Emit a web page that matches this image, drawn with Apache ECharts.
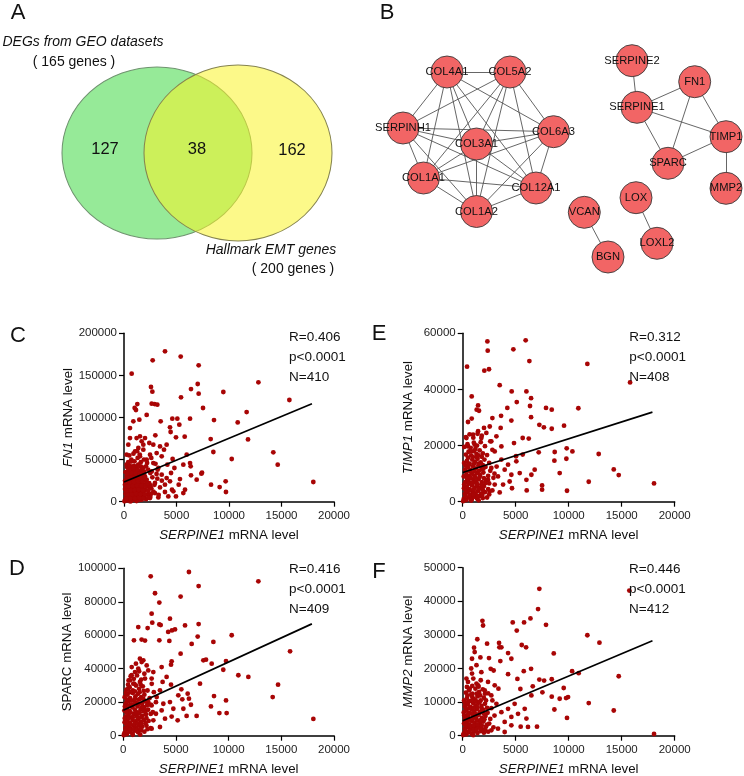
<!DOCTYPE html>
<html>
<head>
<meta charset="utf-8">
<script src="https://cdn.jsdelivr.net/npm/echarts@6/dist/echarts.min.js"></script>
<style>html,body{margin:0;padding:0;background:#fff}#main{width:744px;height:776px}</style>
</head>
<body>
<div id="main"></div>
<script>
// ---------------- DATA ----------------
const vennSetNames = ['DEGs from GEO datasets', 'Hallmark EMT genes'];
const vennSetSizes = [165, 200];
const vennCounts = [127, 38, 162];

const genes = ['COL4A1','COL5A2','SERPINH1','COL6A3','COL3A1','COL1A1','COL12A1','COL1A2',
  'SERPINE2','FN1','SERPINE1','TIMP1','SPARC','MMP2','LOX','VCAN','LOXL2','BGN'];
const collagenCluster = ['COL4A1','COL5A2','SERPINH1','COL6A3','COL3A1','COL1A1','COL12A1','COL1A2'];
const otherLinks = [['SERPINE2','SERPINE1'],['SERPINE1','FN1'],['SERPINE1','TIMP1'],['SERPINE1','SPARC'],
  ['FN1','SPARC'],['FN1','TIMP1'],['SPARC','TIMP1'],['TIMP1','MMP2'],['LOX','LOXL2'],['VCAN','BGN']];

const xTickValues = [0, 5000, 10000, 15000, 20000];
const panelLetters = ['A','B','C','E','D','F'];
const yGenes = ['FN1','TIMP1','SPARC','MMP2'];
const yGeneItalic = [true, true, false, true];
const yMax = [200000, 60000, 100000, 50000];
const yInterval = [50000, 20000, 20000, 10000];
const rValues = ['0.406','0.312','0.416','0.446'];
const pValues = ['p<0.0001','p<0.0001','p<0.0001','p<0.0001'];
const nValues = [410, 408, 409, 412];

const fn1Fit = [[0,23400],[17900,116400]];
const timp1Fit = [[0,10400],[17900,31900]];
const sparcFit = [[0,15200],[17900,66800]];
const mmp2Fit = [[0,4450],[17900,28240]];

const fn1Points = [[3905,178600],[2730,167900],[5400,172300],[7110,162000],[730,152000],[2570,136200],[2700,130700],[6380,133800],[7110,128300],[7020,139800],[12800,141800],[9460,130300],[15750,120800],[5430,124000],[2920,116000],[3175,115200],[2635,116400],[1270,116000],[1140,108900],[1016,111300],[7525,111300],[11680,106500],[2160,103000],[3490,95400],[4600,98600],[5080,98600],[5270,91500],[6290,98600],[8570,97000],[10830,94200],[570,87500],[4380,88300],[4440,82800],[2985,78800],[4950,76400],[5780,77200],[8255,74400],[11810,74000],[5970,55800],[8510,59000],[10260,50700],[14220,58600],[14640,44000],[18030,23400],[9680,24200],[9710,11500],[8290,20200],[9110,17400],[7370,33300],[7430,34500],[6290,45900],[6350,42000],[5650,44000],[6380,31300],[6920,26100],[5810,14300],[5650,10300],[4950,6300],[4570,14300],[5210,20200],[5330,26900],[4480,34100],[4800,40000],[4130,44000],[4060,28100],[3430,17000],[3175,27300],[3900,11500],[2950,10300],[4630,50700],[4060,67700],[3430,65700],[3810,61800],[2790,67700],[2410,69700],[1840,67700],[1520,77600],[2000,75600],[1200,75600],[570,75600],[410,67700],[890,95400],[1460,97400],[1680,71700],[1365,63800],[2480,55800],[3110,57800],[3590,53900],[2160,49900],[2790,45900],[3270,40000],[2635,36000],[3590,32100],[4380,24200],[3900,20200],[2950,22200],[2480,16200],[2160,26100],[1840,30100],[1520,20200],[2000,8300],[1365,6300],[1050,12300],[730,16200],[570,24200],[890,32100],[1200,40000],[730,47900],[250,44000],[250,55800],[1050,59800],[1840,61800],[1520,53900],[410,34100],[95,20200],[250,10300],[410,4400],[890,3600],[1680,2400],[2480,4400],[3270,5100],[4220,6300],[4700,12300],
[100,2000],[300,1500],[500,3000],[700,1000],[900,2500],[1100,1800],[1300,3500],[1500,2200],[1700,4000],[200,5000],[400,6500],[600,5500],[800,7000],[1000,6000],[1200,8000],[1400,6800],[1600,7500],[1900,5800],[150,9500],[350,11000],[550,10000],[750,12000],[950,10500],[1150,12500],[1350,11500],[1550,13000],[1800,10800],[100,15000],[300,16500],[500,14500],[700,17000],[900,15500],[1100,17500],[1300,16000],[1500,18000],[1750,15800],[2000,14000],[200,20000],[400,21500],[600,19500],[800,22000],[1000,20500],[1200,23000],[1400,21000],[1650,22500],[1900,20000],[2200,18000],[100,25000],[300,26500],[500,24500],[700,27500],[900,25500],[1100,28000],[1300,26000],[1550,27000],[1800,25500],[2100,24000],[250,30000],[450,32000],[650,29500],[850,33000],[1050,31000],[1250,33500],[1450,30500],[1700,32000],[2000,30000],[150,35000],[400,37000],[600,34500],[800,38000],[1000,36000],[1200,38500],[1400,35500],[1650,37000],[1900,36000],[300,41000],[550,43000],[750,40000],[950,42500],[1150,41000],[1350,44000],[1600,42000],[1850,40500],[2300,38000],[2500,34000],[2700,29000],[2400,22000],[2600,16000],[2300,9000],[2800,12000],[2100,3000],[2500,6000],[50,500],[600,300],[1200,800],[400,47000],[700,50000],[1000,48000],[1300,52000],[1600,47000],[1900,50000],[2200,46000],[500,55000],[900,57000],[1250,60000],[1500,56000],[2600,52000],[3000,45000],[3200,38000],[2900,20000],
[250,4000],[650,4200],[1050,3800],[1450,4500],[1850,4300],[2300,4800],[350,8300],[750,8800],[1150,9300],[1550,9000],[2000,8700],[2600,9500],[200,13000],[600,13400],[1000,13800],[1400,14200],[1800,13500],[2300,13000],[450,18500],[850,18800],[1250,19500],[1650,19000],[2050,18700],[2500,19500],[150,23000],[550,22800],[950,23500],[1350,24000],[1750,24200],[2250,21500],[350,28500],[750,29000],[1150,29500],[1550,29000],[1950,28000],[300,33500],[700,34000],[1100,33800],[1500,33000],[1900,33500],[500,38500],[900,39500],[1300,38000],[1700,39000],[2100,42000],[3300,8000],[3600,25000],[3100,33000]];

const timp1Points = [[2330,57100],[5940,57500],[4780,54300],[2360,53800],[6290,50100],[410,48100],[2480,47200],[2040,46700],[11760,49100],[15790,42500],[3490,41500],[4620,39300],[6010,39300],[850,37500],[5100,35500],[6450,36900],[6350,34100],[4210,33400],[1450,34300],[1320,32800],[1540,32400],[7860,33400],[8400,32800],[10910,33300],[3620,30600],[2800,29800],[850,29600],[500,28400],[4590,28900],[6450,30100],[7230,27400],[7660,26500],[8400,26000],[9560,27100],[9810,19000],[10350,17900],[12830,17000],[8680,17700],[7170,17600],[9780,15300],[8650,14600],[9150,10200],[14250,11500],[14720,9500],[11890,7100],[18050,6500],[9840,3900],[7490,5800],[7490,4300],[6040,4000],[4650,4800],[3490,3300],[5660,22700],[6230,22500],[4840,20900],[5030,16200],[5660,16800],[6790,11400],[6480,9600],[6010,7800],[5380,10200],[4590,9600],[4430,7200],[3960,11400],[4280,13200],[5060,14400],[3650,15000],[3650,19700],[3180,23300],[2700,21500],[3580,26300],[2550,26800],[2010,26300],[2230,24500],[1450,25100],[980,23900],[1760,22700],[350,22700],[500,19700],[1130,20300],[3020,17900],[3330,9000],[3020,6100],[2550,3700],[1760,2500],[980,1900],[3810,6100],[2390,7800],
[100,1000],[350,600],[600,1500],[850,800],[1100,1800],[1350,1100],[1600,2000],[1900,1300],[200,2800],[450,3300],[700,2500],[950,3600],[1200,3000],[1450,3800],[1750,2900],[2100,3400],[120,4800],[380,5300],[620,4500],[880,5800],[1130,5000],[1380,5600],[1650,4800],[2000,5500],[250,7000],[500,7600],[750,6800],[1000,7900],[1250,7200],[1500,8000],[1800,7000],[2200,7600],[100,9000],[350,9700],[600,9100],[850,10000],[1100,9300],[1350,10200],[1650,9500],[1950,10400],[2400,9200],[220,11500],[480,12200],[730,11300],[980,12600],[1230,11800],[1480,12800],[1780,11600],[2150,12400],[130,13800],[400,14500],[650,13600],[900,15000],[1150,14200],[1400,15300],[1700,14000],[2050,15000],[2500,13800],[300,16800],[550,17800],[800,16500],[1050,18000],[1300,17000],[1600,18300],[1900,17200],[2300,16600],[150,19500],[450,20500],[750,19200],[1050,21000],[1350,20000],[1700,21200],[2100,19800],[300,23000],[650,24000],[1000,22800],[1400,24200],[1800,23500],[2600,21500],[2800,18500],[2700,12000],[3000,10000],[2500,6500],[2800,4000],[2300,1500],[50,200],[800,400],[1500,500],
[250,2000],[650,2200],[1050,2500],[1450,2000],[1850,2400],[2500,2600],[300,4000],[700,4100],[1050,4300],[1500,4500],[1900,4200],[2400,4500],[150,6200],[550,6400],[950,6600],[1350,6300],[1750,6100],[2150,6600],[400,8300],[750,8500],[1200,8700],[1600,8800],[2000,8400],[300,10700],[700,10800],[1100,10900],[1550,11000],[1950,11800],[250,13000],[600,13200],[1050,13400],[1500,13600],[1900,13000],[500,15700],[950,16000],[1300,15800],[1800,16000],[700,18000],[1200,18800],[1500,16500],[2600,11000],[3200,12500],[2900,8500]];

const sparcPoints = [[6230,97800],[2600,95200],[12820,92200],[7150,89400],[3010,85100],[5440,83100],[3420,79500],[2690,72900],[4430,69900],[2750,67500],[3420,66500],[3550,66100],[5860,65900],[7150,66700],[1420,64900],[2310,64300],[4260,62000],[4620,62900],[4910,63500],[1010,57000],[1740,57400],[2060,56800],[3420,57000],[4370,56600],[6490,54800],[7060,59200],[8550,56000],[10290,60000],[5440,49000],[7600,45000],[7850,45400],[9750,44600],[8390,43000],[15830,50400],[4590,44400],[4530,42400],[3640,41000],[9490,39400],[10920,36100],[11870,35100],[7280,31100],[14690,30500],[14180,23100],[18040,10000],[8610,23700],[9750,21100],[8320,17500],[9120,13500],[9810,13500],[6960,11800],[6230,22100],[6420,18500],[6110,25100],[5510,27700],[5600,21700],[5700,16100],[6010,11800],[5160,9200],[4590,11400],[4750,16100],[4430,20100],[5220,24100],[4530,30500],[4110,35100],[3730,32100],[3480,27100],[3170,23100],[3800,19100],[3640,15100],[3960,10200],[3100,13100],[2850,9200],[3480,5200],[2690,4200],[2850,38000],[2690,34100],[2370,39000],[1900,45000],[1580,46000],[1420,40000],[1740,44000],[2220,42000],[1110,38000],[790,36100],[630,33100],[470,28100],[950,31100],[1580,32100],[2060,34100],[320,20100],[2370,20100],[2060,15100],[2690,18100],[160,10200],[320,4200],
[100,1500],[350,1000],[600,2500],[850,1400],[1100,3000],[1400,2000],[1700,3200],[2000,2400],[200,4500],[450,5500],[700,4200],[950,6000],[1200,5000],[1500,6300],[1800,5400],[2200,6000],[120,8000],[380,9000],[630,7800],[880,9500],[1130,8500],[1380,9800],[1650,8300],[1950,9400],[2400,8800],[250,11500],[500,12500],[750,11000],[1000,13000],[1250,12000],[1500,13500],[1800,11800],[2150,12800],[100,15000],[350,16000],[600,14800],[850,17000],[1100,15500],[1350,17500],[1650,15800],[1950,17000],[2350,15500],[220,19000],[480,20500],[730,18500],[980,21000],[1230,19500],[1480,21500],[1780,19200],[2100,20500],[2600,18500],[130,23000],[400,24500],[650,22500],[900,25500],[1150,23500],[1400,25000],[1700,23000],[2000,24500],[2500,22500],[300,27500],[600,29000],[900,27000],[1200,30000],[1500,28000],[1850,29500],[2300,27000],[500,33000],[1000,34000],[1300,36000],[1700,33500],[2000,37000],[800,41000],[1200,43000],[2700,31000],[2900,26000],[2800,14000],[3100,20000],[2600,4500],[50,300],[900,500],[1600,700],
[250,3200],[650,3500],[1000,3800],[1300,3400],[1600,4200],[2300,3900],[300,6800],[650,6500],[1050,7000],[1350,7300],[1700,7000],[2100,7500],[150,10500],[500,10500],[900,11000],[1350,11000],[1650,10900],[2200,10500],[300,14000],[700,13800],[1200,14200],[1550,14000],[1950,14500],[2600,13000],[150,17500],[550,18000],[950,18500],[1400,18800],[1800,17500],[2250,18200],[350,21500],[750,21000],[1100,21800],[1600,22000],[1900,22000],[250,25500],[650,26000],[1100,26500],[1550,26000],[1950,26800],[450,30500],[1050,31000],[1650,30500],[700,35500],[1500,38500]];

const mmp2Points = [[7230,43700],[15720,43200],[7110,37700],[1860,34200],[1920,32800],[4720,33700],[5790,33700],[6390,34900],[7860,33000],[5100,31300],[11760,29900],[12900,27700],[1380,28700],[2300,27400],[3430,27600],[3460,26300],[3650,26300],[5570,27000],[5980,26300],[4280,24600],[1070,26200],[1130,24900],[1670,23300],[8590,24500],[880,22900],[2480,23100],[4590,22900],[3550,22200],[2640,19900],[2920,19400],[6450,19900],[5760,19200],[4280,18300],[880,18500],[1760,18900],[5160,16900],[7230,16700],[7680,16400],[8400,16800],[10320,19200],[10940,18600],[14720,17700],[6610,14700],[5440,13900],[3370,14000],[7520,12900],[9530,14200],[9940,11500],[9750,11200],[9150,11000],[8400,11600],[6480,12000],[8650,7800],[11890,9700],[14250,7500],[9840,5300],[18050,500],[7010,2700],[6160,2600],[5470,2700],[4590,3100],[6010,5100],[5850,8000],[5220,6500],[4900,9500],[4280,8000],[4590,5600],[3960,4100],[3650,7000],[3180,9500],[2700,12000],[3020,15000],[2390,16000],[2080,13500],[1450,15000],[660,14000],[350,17000],[975,11000],[3330,2100],[2700,1600],[3960,1100],
[100,700],[350,400],[600,1100],[850,500],[1100,1300],[1400,800],[1700,1400],[2000,900],[2400,1200],[200,2100],[450,2600],[700,1900],[950,2800],[1200,2300],[1500,2900],[1800,2100],[2200,2700],[120,3600],[380,4100],[630,3400],[880,4300],[1130,3800],[1380,4500],[1650,3700],[1950,4200],[2500,3600],[250,5200],[500,5800],[750,5000],[1000,6100],[1250,5400],[1500,6200],[1800,5300],[2150,5900],[100,6900],[350,7500],[600,6800],[850,7800],[1100,7100],[1350,7900],[1650,7000],[1950,7700],[2350,6800],[220,8800],[480,9400],[730,8600],[980,9700],[1230,9000],[1480,9800],[1780,8900],[2100,9500],[2700,8200],[130,10500],[400,11200],[650,10300],[900,11500],[1150,10800],[1400,11700],[1700,10500],[2000,11300],[300,12800],[600,13500],[900,12500],[1200,14000],[1550,13000],[1900,13800],[2400,12600],[500,16000],[1000,17000],[1300,15500],[1700,16500],[800,20000],[1300,21000],[2800,10500],[3000,6000],[2900,2500],[50,200],[1000,150],
[250,1500],[650,1500],[1000,1700],[1300,1800],[1650,2200],[2100,1800],[300,3000],[700,2900],[1050,3100],[1400,3300],[1800,3000],[2300,3300],[200,4500],[550,4700],[900,5000],[1300,4800],[1700,4600],[2050,4900],[150,6000],[500,6300],[850,6500],[1200,6400],[1600,6800],[2000,6500],[300,8100],[650,8200],[1050,8300],[1400,8500],[1800,8000],[2300,8300],[200,9900],[500,10000],[850,10300],[1300,10200],[1600,10000],[450,12000],[800,12200],[1300,12500],[1650,12000],[2100,12500],[400,14500],[900,14800],[1500,14600],[2200,10500],[2600,5000]];

// ---------------- LAYOUT (positions / styles) ----------------
const FONT = '"Liberation Sans", Arial, Helvetica, sans-serif';
const W = 744, H = 776;
const nodePos = {
  COL4A1:[447,72], COL5A2:[510,72], SERPINH1:[403,128], COL6A3:[553.5,131.7], COL3A1:[476.5,144],
  COL1A1:[423.5,178], COL12A1:[536,188], COL1A2:[476.5,211.5],
  SERPINE2:[632,60.7], FN1:[694.7,81.7], SERPINE1:[637,107.3], TIMP1:[726,136.7], SPARC:[668,163.3],
  MMP2:[726,188.3], LOX:[636,197.7], VCAN:[584.3,212.3], LOXL2:[657,243.3], BGN:[608,257]
};
const vennShapes = [
  {c:[157,153], size:[190,172], color:'rgb(150,234,152)', border:'#6f936f'},
  {c:[238,153], size:[188,176], color:'rgba(250,244,40,0.55)', border:'#85834f'}
];
const vennCountPos = [[105,149],[197,149],[292,150]];
const vennLabelPos = [[[83,42],[74,62]], [[271,250],[293,269]]];
const letterPos = [[18,13],[387,13],[18,336],[379,334],[17,569],[379,572]];
const plotGrids = [
  {left:124, top:333.3, width:210, height:168.4},
  {left:462.7, top:333.3, width:212, height:168.4},
  {left:123.3, top:568.3, width:210.7, height:167.4},
  {left:462.7, top:567.7, width:212, height:168}
];
const statPos = [[289,337],[629.3,337],[289,569],[629,569.5]];
const pointSets = [fn1Points, timp1Points, sparcPoints, mmp2Points];
const fitSets = [fn1Fit, timp1Fit, sparcFit, mmp2Fit];

// ---------------- BUILD ----------------
const grids = [{left:0, top:0, width:W, height:H, outerBoundsMode:'none'}]
  .concat(plotGrids.map(g => Object.assign({outerBoundsMode:'none', containLabel:false}, g)));

const xAxes = [{type:'value', gridIndex:0, min:0, max:W, show:false}];
const yAxes = [{type:'value', gridIndex:0, min:0, max:H, inverse:true, show:false}];

const plainNum = v => String(v);
const richItalic = {i:{fontStyle:'italic', fontSize:13.3, fontFamily:FONT, color:'#111'}};
plotGrids.forEach((g, k) => {
  const gi = k + 1;
  xAxes.push({
    type:'value', gridIndex:gi, min:xTickValues[0], max:xTickValues[xTickValues.length-1],
    interval:xTickValues[1]-xTickValues[0],
    name:'{i|SERPINE1} mRNA level', nameLocation:'middle', nameGap:27,
    nameTextStyle:{fontSize:13.3, fontFamily:FONT, color:'#111', rich:richItalic},
    axisLine:{show:true, onZero:false, lineStyle:{color:'#000', width:1.5}},
    axisTick:{show:true, inside:false, length:5, lineStyle:{color:'#000', width:1.2}},
    axisLabel:{show:true, fontSize:11.5, fontFamily:FONT, color:'#222', margin:8, formatter:plainNum, showMinLabel:true, showMaxLabel:true},
    splitLine:{show:false}
  });
  const yName = yGeneItalic[k] ? '{i|' + yGenes[k] + '} mRNA level' : yGenes[k] + ' mRNA level';
  yAxes.push({
    type:'value', gridIndex:gi, min:0, max:yMax[k], interval:yInterval[k],
    name:yName, nameLocation:'middle', nameGap:48, nameRotate:90,
    nameTextStyle:{fontSize:13.3, fontFamily:FONT, color:'#111', rich:richItalic},
    axisLine:{show:true, onZero:false, lineStyle:{color:'#000', width:1.5}},
    axisTick:{show:true, inside:false, length:5, lineStyle:{color:'#000', width:1.2}},
    axisLabel:{show:true, fontSize:11.5, fontFamily:FONT, color:'#222', margin:7, formatter:plainNum, showMinLabel:true, showMaxLabel:true},
    splitLine:{show:false}
  });
});

const series = [];
// Venn
series.push({
  type:'scatter', xAxisIndex:0, yAxisIndex:0, symbol:'circle', silent:true, z:1,
  data: vennSetSizes.map((s, i) => ({
    name: vennSetNames[i], value: vennShapes[i].c.concat([s]), symbolSize: vennShapes[i].size,
    itemStyle:{color:vennShapes[i].color, borderColor:vennShapes[i].border, borderWidth:1, opacity:1}
  }))
});
// Network
const links = [];
for (let a = 0; a < collagenCluster.length; a++)
  for (let b = a + 1; b < collagenCluster.length; b++)
    links.push({source:collagenCluster[a], target:collagenCluster[b]});
otherLinks.forEach(l => links.push({source:l[0], target:l[1]}));
series.push({
  type:'graph', coordinateSystem:'cartesian2d', xAxisIndex:0, yAxisIndex:0, layout:'none', z:3,
  symbol:'circle', symbolSize:32, roam:false, animation:false,
  itemStyle:{color:'#F26565', borderColor:'#3a3a3a', borderWidth:0.9},
  label:{show:true, position:'inside', fontSize:11.2, fontFamily:FONT, color:'#111'},
  lineStyle:{color:'#555', width:0.9, opacity:1, curveness:0},
  emphasis:{disabled:true},
  data: genes.map(g => ({name:g, value:nodePos[g]})),
  links: links
});
// Scatter panels
pointSets.forEach((pts, k) => {
  series.push({
    type:'scatter', xAxisIndex:k+1, yAxisIndex:k+1, symbol:'circle', symbolSize:4.8,
    itemStyle:{color:'#A80505', opacity:1}, data:pts, z:2, silent:true
  });
  series.push({
    type:'line', xAxisIndex:k+1, yAxisIndex:k+1, data:fitSets[k], symbol:'none', showSymbol:false,
    lineStyle:{color:'#000', width:1.7}, z:4, silent:true
  });
});

// Text graphics
function txt(x, y, text, size, opts) {
  return {
    type:'text', x:x, y:y, silent:true, z:10,
    style:Object.assign({text:text, fontSize:size, fontFamily:FONT, fill:'#111',
      align:'center', verticalAlign:'middle', textAlign:'center', textVerticalAlign:'middle'}, opts || {})
  };
}
const graphics = [];
panelLetters.forEach((L, i) => graphics.push(txt(letterPos[i][0], letterPos[i][1], L, 22)));
vennCounts.forEach((c, i) => graphics.push(txt(vennCountPos[i][0], vennCountPos[i][1], String(c), 16.5)));
vennSetNames.forEach((nm, i) => {
  graphics.push(txt(vennLabelPos[i][0][0], vennLabelPos[i][0][1], nm, 14, {fontStyle:'italic'}));
  graphics.push(txt(vennLabelPos[i][1][0], vennLabelPos[i][1][1], '( ' + vennSetSizes[i] + ' genes )', 14));
});
rValues.forEach((r, k) => {
  const lines = ['R=' + r, pValues[k], 'N=' + nValues[k]];
  lines.forEach((t, j) => graphics.push(txt(statPos[k][0], statPos[k][1] + j * 20, t, 13.5,
    {align:'left', textAlign:'left'})));
});

const chart = echarts.init(document.getElementById('main'), null, {renderer:'canvas', width:W, height:H});
chart.setOption({
  animation:false,
  backgroundColor:'#fff',
  grid:grids, xAxis:xAxes, yAxis:yAxes, series:series,
  graphic:{elements:graphics}
});
</script>
</body>
</html>
